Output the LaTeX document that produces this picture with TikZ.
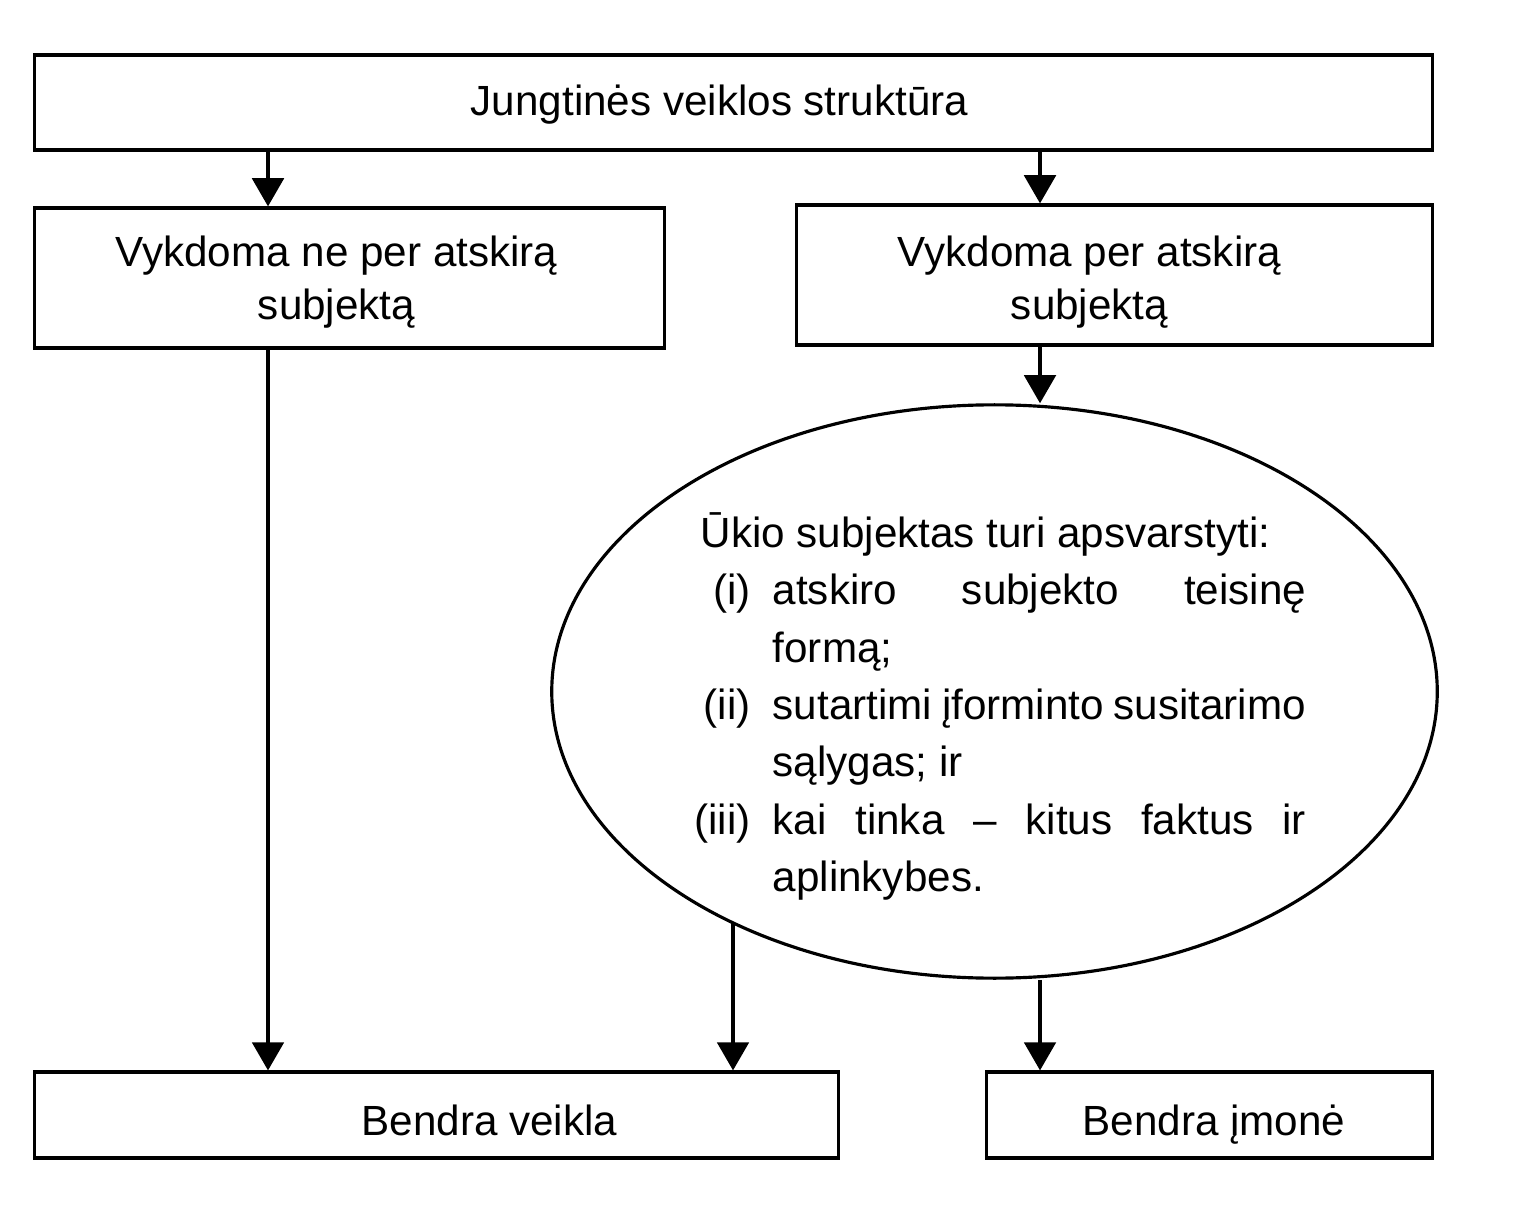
\documentclass[tikz,border=0pt]{standalone}
\usepackage{fontspec}
\setmainfont{Liberation Sans}
\usetikzlibrary{arrows.meta,shapes.geometric}

\begin{document}
\begin{tikzpicture}[
    x=0.01cm, y=-0.01cm,
    box/.style={rectangle, draw, line width=0.9pt, inner sep=0pt, align=center, font=\fontsize{12}{15.2}\selectfont},
    arrow/.style={-{Triangle[width=9pt,length=8pt]}, line width=0.9pt},
]
    \useasboundingbox (0,0) rectangle (1540,1216);

    % Boxes
    \node[box, minimum width=13.97cm, minimum height=0.95cm] (top) at (733.5,102.5)
        {\raisebox{-0.6pt}[\height][\depth]{Jungtinės veiklos struktūra}\hspace*{0.28cm}};
    \node[box, minimum width=6.29cm, minimum height=1.40cm] (ne) at (349.5,278)
        {\raisebox{-1.3pt}[\height][\depth]{\begin{tabular}{@{}c@{}}Vykdoma ne per atskirą\\subjektą\end{tabular}}\hspace*{0.26cm}};
    \node[box, minimum width=6.35cm, minimum height=1.40cm] (per) at (1114.5,275)
        {\raisebox{-2.1pt}[\height][\depth]{\begin{tabular}{@{}c@{}}Vykdoma per atskirą\\subjektą\end{tabular}}\hspace*{0.5cm}};
    \node[box, minimum width=8.03cm, minimum height=0.86cm] (veikla) at (436.5,1115)
        {\hspace*{1.06cm}\raisebox{-1.4pt}[\height][\depth]{Bendra veikla}};
    \node[box, minimum width=4.45cm, minimum height=0.86cm] (imone) at (1209.5,1115)
        {\hspace*{0.09cm}\raisebox{-2.8pt}[\height][\depth]{Bendra įmonė}};

    % Ellipse
    \node[ellipse, draw, line width=0.9pt, inner sep=0pt, minimum width=8.85cm, minimum height=5.73cm] (ell) at (994.5,691.5) {};
    \node[anchor=north west, inner sep=0pt, text width=6.05cm, align=justify,
          font=\fontsize{12}{16.3}\selectfont] (txt) at (700,512) {%
        \parskip=0pt
        Ūkio subjektas turi apsvarstyti:\par
        \hangindent=0.72cm\hangafter=1\noindent\makebox[0.72cm][r]{(i)\hspace{0.22cm}}atskiro subjekto teisinę\linebreak formą;\par
        \hangindent=0.72cm\hangafter=1\noindent\makebox[0.72cm][r]{(ii)\hspace{0.22cm}}sutartimi įforminto susitarimo\linebreak sąlygas; ir\par
        \hangindent=0.72cm\hangafter=1\noindent\makebox[0.72cm][r]{(iii)\hspace{0.22cm}}kai tinka – kitus faktus ir\linebreak aplinkybes.\par};

    % Arrows
    \coordinate (xl) at (268,0);
    \coordinate (xm) at (733,0);
    \coordinate (xr) at (1040,0);
    \draw[arrow] (top.south -| xl) -- (ne.north -| xl);
    \draw[arrow] (top.south -| xr) -- (per.north -| xr);
    \draw[arrow] (per.south -| xr) -- (ell.north -| xr);
    \draw[arrow] (ne.south -| xl) -- (veikla.north -| xl);
    \draw[arrow] (xm |- ell.221.5) -- (veikla.north -| xm);
    \draw[arrow] (ell.south -| xr) -- (imone.north -| xr);
\end{tikzpicture}
\end{document}
